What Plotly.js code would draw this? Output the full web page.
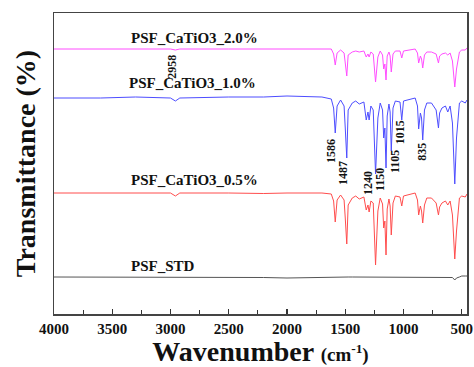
<!DOCTYPE html>
<html><head><meta charset="utf-8">
<script src="https://cdn.plot.ly/plotly-3.0.1.min.js"></script>
<style>body{margin:0;background:#fff}#c{width:474px;height:367px}</style>
</head><body><div id="c"></div>
<script>
// Wavenumbers (cm-1) shared by the four spectra
const wavenumber = [4000,3600,3300,3000,2958,2920,2500,2200,2000,1700,1620,1600,1586,1570,1540,1510,1500,1487,1475,1440,1410,1380,1340,1320,1305,1295,1280,1260,1240,1220,1200,1180,1170,1160,1150,1140,1125,1115,1105,1090,1070,1030,1015,1000,900,880,870,855,845,835,820,800,760,720,700,690,670,640,620,600,580,560,545,520,500,470,455];
// Relative transmittance (baseline 100)
const tSTD =   [100,100,100,100,99.5,100,100,99.5,99,100,100,100,100,100,100,100,100,100,100,100,100,100,100,100,100,100,100,100,99.5,100,100,100,100,100,100,100,100,100,100,100,100,100,100,100,100,100,100,100,100,100,100,100,100,100,100,99.5,100,100,100,100,99.5,97,99,100,101,101,101];
const t05 =    [100,100,100,100,97,100,100,99.5,100,100,99,92,71,93,98,93,75,49,88,95,97,94,96,83,88,81,92,90,28,82,95,89,65,72,38,84,94,87,58,90,97,96,87,97,100,93,78,87,82,70,88,95,95,90,78,86,90,92,88,92,78,34,62,95,97,96,99];
const t10 =    [100,100,101,100,97,100,101,101,102,101,99,90,65,92,98,92,70,40,88,95,97,94,96,78,86,78,92,88,24,80,95,88,60,70,30,82,94,86,47,90,97,96,78,97,100,92,69,85,80,58,88,95,95,88,70,85,90,92,86,92,75,14,60,95,97,95,98];
const t20 =    [100,100,100,100,99,100,100,100,100,100,100,95,84,96,99,96,86,73,94,97,98,97,98,92,95,92,97,95,67,92,98,94,80,85,69,93,97,93,77,95,98,98,91,98,100,96,86,93,90,81,94,97,97,95,86,93,95,96,94,96,88,62,80,97,99,99,101];
// Vertical offsets of each spectrum
const series = ['PSF_STD','PSF_CaTiO3_0.5%','PSF_CaTiO3_1.0%','PSF_CaTiO3_2.0%'];
const values = [tSTD, t05, t10, t20];
const offsets = [-63, 21, 116, 165];
const colors = ['#555555','#ff4d4d','#4d4dff','#ff4dff'];
// Axis ticks
const xTicks = [4000,3500,3000,2500,2000,1500,1000,500];
const xMinor = [3750,3250,2750,2250,1750,1250,750];
// Peak labels
const peakText = ['2958','1586','1487','1240','1150','1105','1015','835'];
const peakX = [2990,1622,1519,1304,1201,1072,1029,843];
const peakY = [247,163,141,131,134,152,182,162];
// Series label positions
const labelX = [3355,3355,3370,3355];
const labelY = [48,134,231,276];

const traces = values.map((v,i)=>({
  x: wavenumber, y: v.map(t=>t+offsets[i]), type:'scatter', mode:'lines',
  line:{color:colors[i], width:1}, name:series[i], showlegend:false, hoverinfo:'skip'
}));

const fam = '"Liberation Serif", "Times New Roman", serif';
const f = (size)=>({family:fam, color:'#111', size:size, weight:'bold'});
const ann = [];
series.forEach((s,i)=>ann.push({x:labelX[i], y:labelY[i], xref:'x', yref:'y', text:'<b>'+s+'</b>', showarrow:false, xanchor:'left', yanchor:'middle', font:f(15)}));
peakText.forEach((p,i)=>ann.push({x:peakX[i], y:peakY[i], xref:'x', yref:'y', text:'<b>'+p+'</b>', showarrow:false, textangle:-90, xanchor:'center', yanchor:'middle', font:f(12)}));

const layout = {
  width:474, height:367, margin:{l:54, r:7, t:13, b:53},
  paper_bgcolor:'#fff', plot_bgcolor:'#fff',
  xaxis:{range:[4000,455], tickmode:'array', tickvals:xTicks, ticktext:xTicks.map(v=>'<b>'+v+'</b>'),
    ticks:'inside', ticklen:5, tickwidth:1.2, tickcolor:'#333',
    minor:{tickvals:xMinor, ticks:'inside', ticklen:4, tickcolor:'#333'},
    showgrid:false, zeroline:false, showline:true, mirror:true, linecolor:'#444', linewidth:1.5,
    tickfont:f(15), automargin:false,
    title:{text:'<b>Wavenumber <span style="font-size:19px">(cm<sup>-1</sup>)</span></b>', font:f(28), standoff:0}},
  yaxis:{range:[0,301], showticklabels:false, ticks:'', showgrid:false, zeroline:false,
    showline:true, mirror:true, linecolor:'#444', linewidth:1.5, automargin:false,
    title:{text:'<b>Transmittance (%)</b>', font:f(28), standoff:8}},
  annotations: ann
};
Plotly.newPlot('c', traces, layout, {staticPlot:true, displayModeBar:false});
</script></body></html>
